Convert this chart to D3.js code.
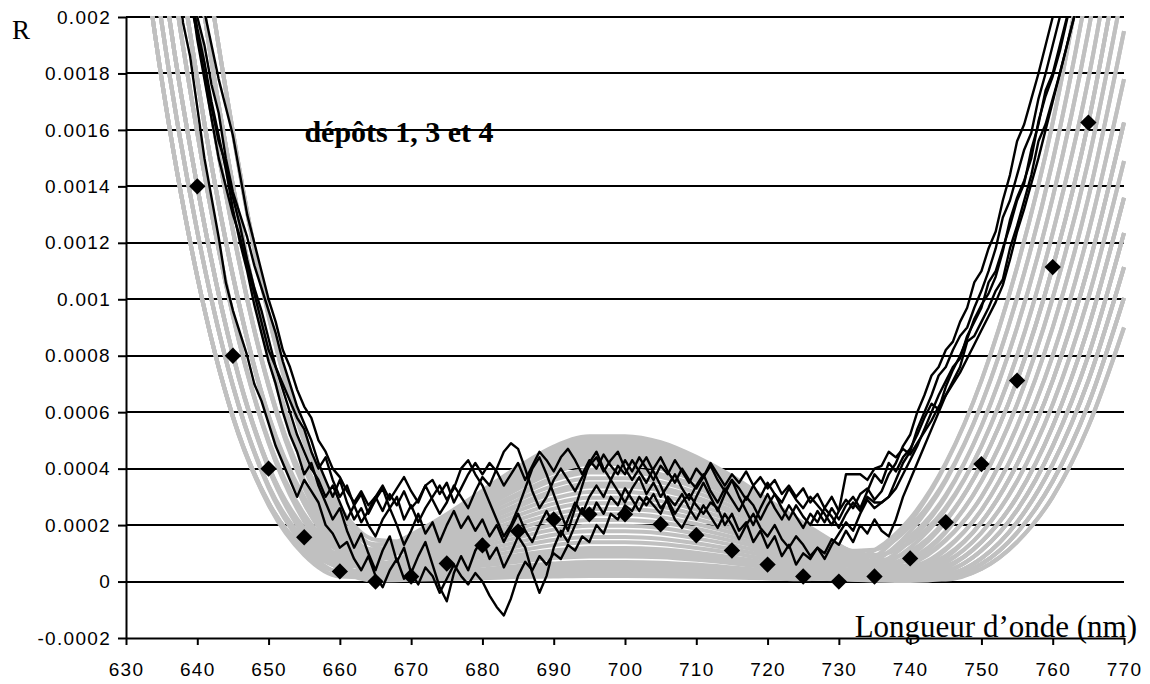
<!DOCTYPE html>
<html><head><meta charset="utf-8">
<script src="https://cdn.jsdelivr.net/npm/d3@7"></script>
<style>body{margin:0;background:#fff} svg{display:block}</style>
</head><body><svg id="c" width="1150" height="684"></svg>
<script>
// ---------- data ----------
const xTicks = [630,640,650,660,670,680,690,700,710,720,730,740,750,760,770];
const yTicks = [-0.0002,0,0.0002,0.0004,0.0006,0.0008,0.001,0.0012,0.0014,0.0016,0.0018,0.002];
const yTickLabels = ["-0.0002","0","0.0002","0.0004","0.0006","0.0008","0.001","0.0012","0.0014","0.0016","0.0018","0.002"];

const grayX = [630,635,640,645,650,655,660,665,670,675,680,685,690,695,700,705,710,715,720,725,730,735,740,745,750,755,760,765,770];
const gray1 = [0.0027,0.00178,0.00108,0.000585,0.00028,0.000121,0.000072,0.000104,0.000166,0.000239,0.000322,0.000406,0.000478,0.000515,0.000515,0.000494,0.000442,0.000374,0.000291,0.000208,0.00013,0.000068,0.000049,0.000092,0.00021,0.000416,0.000712,0.001114,0.001626];
const gray2 = [0.0034,0.0022,0.0014,0.000805,0.00041,0.00019,0.0001,0.0001,0.00016,0.00023,0.00031,0.00039,0.00046,0.000495,0.000495,0.000475,0.000425,0.00036,0.00028,0.0002,0.000125,0.000065,0.000035,0.000055,0.00014,0.0003,0.00055,0.0009,0.00136];
const gray3 = [0.0042,0.0027,0.00178,0.001085,0.00059,0.000299,0.000148,0.000106,0.000154,0.000221,0.000298,0.000374,0.000442,0.000475,0.000475,0.000456,0.000408,0.000346,0.000269,0.000192,0.00012,0.000062,0.000029,0.000028,0.000082,0.00021,0.000416,0.000712,0.001114];
const gray4 = [0.005,0.0034,0.0022,0.001405,0.000809,0.000428,0.000215,0.000132,0.000147,0.000212,0.000285,0.000359,0.000423,0.000455,0.000455,0.000437,0.000391,0.000331,0.000258,0.000184,0.000115,0.000065,0.000073,0.000149,0.0003,0.00055,0.0009,0.00136,0.00195];
const gray5 = [0.0027,0.00178,0.00108,0.000584,0.000279,0.000116,0.000062,0.000086,0.000138,0.000198,0.000267,0.000335,0.000396,0.000426,0.000426,0.000409,0.000366,0.00031,0.000241,0.000172,0.000108,0.000074,0.000108,0.000219,0.000416,0.000712,0.001114,0.001626,0.0023];
const gray6 = [0.0034,0.0022,0.0014,0.000804,0.000408,0.000184,0.000088,0.00008,0.000128,0.000184,0.000248,0.000312,0.000368,0.000396,0.000396,0.00038,0.00034,0.000288,0.000224,0.00016,0.0001,0.000052,0.000024,0.000026,0.000082,0.00021,0.000416,0.000712,0.001114];
const gray7 = [0.0042,0.0027,0.00178,0.001084,0.000587,0.000292,0.000134,0.000084,0.000118,0.00017,0.000229,0.000289,0.00034,0.000366,0.000366,0.000352,0.000315,0.000266,0.000207,0.000148,0.000093,0.000048,0.00004,0.000089,0.00021,0.000416,0.000712,0.001114,0.001626];
const gray8 = [0.005,0.0034,0.0022,0.001403,0.000807,0.00042,0.000201,0.000108,0.000109,0.000156,0.000211,0.000265,0.000313,0.000337,0.000337,0.000323,0.000289,0.000245,0.00019,0.000136,0.00009,0.000089,0.00016,0.000307,0.00055,0.0009,0.00136,0.00195,0.0027];
const gray9 = [0.0034,0.0022,0.0014,0.000803,0.000406,0.000178,0.000076,0.00006,0.000096,0.000138,0.000186,0.000234,0.000276,0.000297,0.000297,0.000285,0.000255,0.000216,0.000168,0.00012,0.000075,0.000039,0.000023,0.000051,0.00014,0.0003,0.00055,0.0009,0.00136];
const gray10 = [0.0042,0.0027,0.00178,0.001083,0.000585,0.000286,0.000121,0.000062,0.000083,0.00012,0.000161,0.000203,0.000239,0.000257,0.000257,0.000247,0.000221,0.000187,0.000146,0.000104,0.000065,0.000039,0.000061,0.000145,0.0003,0.00055,0.0009,0.00136,0.00195];
const gray11 = [0.0027,0.00178,0.00108,0.000582,0.000274,0.000103,0.000036,0.000044,0.00007,0.000101,0.000136,0.000172,0.000202,0.000218,0.000218,0.000209,0.000187,0.000158,0.000123,0.000088,0.000073,0.000111,0.000223,0.00042,0.000712,0.001114,0.001626,0.0023,0.0031];
const gray12 = [0.005,0.0034,0.0022,0.001402,0.000804,0.000411,0.000182,0.000076,0.000058,0.000083,0.000112,0.00014,0.000166,0.000178,0.000178,0.000171,0.000153,0.00013,0.000101,0.000072,0.000045,0.000023,0.000011,0.000022,0.000082,0.00021,0.000416,0.000712,0.001114];
const gray13 = [0.0034,0.0022,0.0014,0.000801,0.000403,0.000168,0.000057,0.000028,0.000045,0.000064,0.000087,0.000109,0.000129,0.000139,0.000139,0.000133,0.000119,0.000101,0.000078,0.000056,0.000035,0.000036,0.00009,0.000213,0.000416,0.000712,0.001114,0.001626,0.0023];
const gray14 = [0.0042,0.0027,0.00178,0.001081,0.000582,0.000276,0.000102,0.00003,0.000032,0.000046,0.000062,0.000078,0.000092,0.000099,0.000099,0.000095,0.000085,0.000072,0.000056,0.00004,0.000025,0.000013,0.000024,0.000084,0.00021,0.000416,0.000712,0.001114,0.001626];
const gray15 = [0.0027,0.00178,0.00108,0.000581,0.000271,0.000094,0.000018,0.000014,0.000022,0.000032,0.000043,0.000055,0.000064,0.000069,0.000069,0.000067,0.00006,0.00005,0.000039,0.000028,0.000023,0.000054,0.000144,0.000301,0.00055,0.0009,0.00136,0.00195,0.0027];
const gray16 = [0.005,0.0034,0.0022,0.0014,0.000801,0.000402,0.000165,0.000048,0.000013,0.000018,0.000025,0.000031,0.000037,0.00004,0.00004,0.000038,0.000034,0.000029,0.000022,0.000016,0.00001,0.000005,0.000007,0.000046,0.00014,0.0003,0.00055,0.0009,0.00136];
const gray17 = [0.0034,0.0022,0.0014,0.0008,0.0004,0.000161,0.000042,0.000004,0.000006,0.000009,0.000012,0.000016,0.000018,0.00002,0.00002,0.000019,0.000017,0.000014,0.000011,0.000008,0.000023,0.000085,0.000211,0.000416,0.000712,0.001114,0.001626,0.0023,0.0031];
const gray18 = [0.0042,0.0027,0.00178,0.001081,0.000582,0.000277,0.000103,0.000032,0.000035,0.000051,0.000068,0.000086,0.000101,0.000109,0.000109,0.000105,0.000094,0.000079,0.000062,0.000044,0.000028,0.000014,0.000007,0.000007,0.000045,0.00014,0.0003,0.00055,0.0009];
const gray19 = [0.005,0.0034,0.0022,0.001402,0.000805,0.000414,0.000189,0.000088,0.000077,0.00011,0.000149,0.000187,0.000221,0.000238,0.000238,0.000228,0.000204,0.000173,0.000134,0.000096,0.00006,0.000049,0.000096,0.000215,0.000416,0.000712,0.001114,0.001626,0.0023];
const gray20 = [0.0027,0.00178,0.00108,0.000585,0.000279,0.000117,0.000064,0.00009,0.000144,0.000207,0.000279,0.000351,0.000414,0.000446,0.000446,0.000428,0.000383,0.000324,0.000252,0.00018,0.000113,0.000059,0.000027,0.000014,0.000045,0.00014,0.0003,0.00055,0.0009];
const gray21 = [0.003,0.00198,0.00124,0.000695,0.00034,0.000151,0.000081,0.000102,0.000163,0.000235,0.000316,0.000398,0.000469,0.000505,0.000505,0.000485,0.000434,0.000367,0.000286,0.000204,0.000128,0.000066,0.000033,0.00004,0.00011,0.000253,0.00048,0.0008,0.001235];
const gray22 = [0.0038,0.00245,0.00159,0.000945,0.0005,0.000239,0.000119,0.000098,0.000157,0.000225,0.000304,0.000382,0.000451,0.000485,0.000485,0.000466,0.000417,0.000353,0.000274,0.000196,0.000125,0.000094,0.000139,0.000263,0.00048,0.0008,0.001235,0.00178,0.0025];
const gray23 = [0.0046,0.003,0.00198,0.001245,0.000699,0.000358,0.000176,0.000114,0.00015,0.000216,0.000291,0.000367,0.000432,0.000465,0.000465,0.000447,0.0004,0.000338,0.000263,0.000188,0.000118,0.000061,0.000038,0.000071,0.000173,0.000355,0.000628,0.001005,0.00149];
const gray24 = [0.0054,0.0038,0.00245,0.001594,0.000949,0.000516,0.000263,0.000148,0.000141,0.000202,0.000273,0.000343,0.000405,0.000436,0.000436,0.000418,0.000374,0.000317,0.000246,0.000176,0.00011,0.000057,0.000026,0.000019,0.000062,0.000173,0.000355,0.000628,0.001005];
const gray25 = [0.003,0.00198,0.00124,0.000694,0.000338,0.000145,0.00007,0.000084,0.000134,0.000193,0.00026,0.000328,0.000386,0.000416,0.000416,0.000399,0.000357,0.000302,0.000235,0.000168,0.000105,0.000057,0.000055,0.000118,0.000253,0.00048,0.0008,0.001235,0.00178];
const gray26 = [0.0038,0.00245,0.00159,0.000944,0.000498,0.000233,0.000107,0.000078,0.000125,0.000179,0.000242,0.000304,0.000359,0.000386,0.000386,0.000371,0.000332,0.000281,0.000218,0.000156,0.000108,0.000113,0.000196,0.000363,0.000628,0.001005,0.00149,0.00212,0.0029];
const gray27 = [0.0046,0.003,0.00198,0.001244,0.000697,0.000351,0.000162,0.00009,0.000112,0.000161,0.000217,0.000273,0.000322,0.000347,0.000347,0.000333,0.000298,0.000252,0.000196,0.00014,0.000088,0.000046,0.000023,0.000037,0.00011,0.000253,0.00048,0.0008,0.001235];
const gray28 = [0.0054,0.0038,0.00245,0.001593,0.000946,0.000509,0.000248,0.000124,0.000102,0.000147,0.000198,0.00025,0.000294,0.000317,0.000317,0.000304,0.000272,0.00023,0.000179,0.000128,0.00008,0.000052,0.000081,0.000179,0.000355,0.000628,0.001005,0.00149,0.00212];
const gray29 = [0.003,0.00198,0.00124,0.000693,0.000336,0.000137,0.000054,0.000056,0.00009,0.000129,0.000174,0.000218,0.000258,0.000277,0.000277,0.000266,0.000238,0.000202,0.000157,0.000112,0.00007,0.000036,0.000017,0.000016,0.000062,0.000173,0.000355,0.000628,0.001005];
const gray30 = [0.0038,0.00245,0.00159,0.000942,0.000494,0.000222,0.000084,0.00004,0.000064,0.000092,0.000124,0.000156,0.000184,0.000198,0.000198,0.00019,0.00017,0.000144,0.000112,0.00008,0.00005,0.000026,0.000022,0.000066,0.000173,0.000355,0.000628,0.001005,0.00149];
const gray31 = [0.0046,0.003,0.00198,0.001242,0.000693,0.00034,0.000139,0.000052,0.000051,0.000074,0.000099,0.000125,0.000147,0.000158,0.000158,0.000152,0.000136,0.000115,0.00009,0.000064,0.000042,0.000051,0.00012,0.000256,0.00048,0.0008,0.001235,0.00178,0.0025];
const gray32 = [0.0054,0.0038,0.00245,0.001591,0.000942,0.000497,0.000224,0.000084,0.000038,0.000055,0.000074,0.000094,0.00011,0.000119,0.000119,0.000114,0.000102,0.000086,0.000067,0.000048,0.00003,0.000018,0.000037,0.000112,0.000253,0.00048,0.0008,0.001235,0.00178];
const gray33 = [0.003,0.00198,0.00124,0.000691,0.000332,0.000125,0.000031,0.000018,0.000029,0.000041,0.000056,0.00007,0.000083,0.000089,0.000089,0.000086,0.000077,0.000065,0.00005,0.000036,0.000023,0.000012,0.000007,0.000032,0.00011,0.000253,0.00048,0.0008,0.001235];
const gray34 = [0.0038,0.00245,0.00159,0.00094,0.000491,0.000213,0.000066,0.00001,0.000016,0.000023,0.000031,0.000039,0.000046,0.00005,0.00005,0.000048,0.000043,0.000036,0.000028,0.00002,0.000013,0.000017,0.000065,0.000174,0.000355,0.000628,0.001005,0.00149,0.00212];
const gray35 = [0.0046,0.003,0.00198,0.00124,0.000691,0.000332,0.000124,0.000026,0.00001,0.000014,0.000019,0.000023,0.000028,0.00003,0.00003,0.000029,0.000026,0.000022,0.000017,0.000012,0.000008,0.000004,0.000002,0.000011,0.000062,0.000173,0.000355,0.000628,0.001005];
const gray36 = [0.0054,0.0038,0.00245,0.001591,0.000941,0.000494,0.000217,0.000072,0.000019,0.000028,0.000037,0.000047,0.000055,0.000059,0.000059,0.000057,0.000051,0.000043,0.000034,0.000024,0.000025,0.00007,0.000177,0.000356,0.000628,0.001005,0.00149,0.00212,0.0029];

const blackX = [636,637,638,639,640,641,642,643,644,645,646,647,648,649,650,651,652,653,654,655,656,657,658,659,660,661,662,663,664,665,666,667,668,669,670,671,672,673,674,675,676,677,678,679,680,681,682,683,684,685,686,687,688,689,690,691,692,693,694,695,696,697,698,699,700,701,702,703,704,705,706,707,708,709,710,711,712,713,714,715,716,717,718,719,720,721,722,723,724,725,726,727,728,729,730,731,732,733,734,735,736,737,738,739,740,741,742,743,744,745,746,747,748,749,750,751,752,753,754,755,756,757,758,759,760,761,762,763,764,765,766];
const black1 = [0.0024,0.0022,0.00198,0.00186,0.00168,0.0015,0.00136,0.00122,0.00106,0.00096,
0.00088,0.0008,0.0007,0.00064,0.00056,0.00048,0.00042,0.00036,0.0003,0.00036,
0.00032,0.00028,0.0002,0.00017,0.00012,0.00014,0.00008,0.00004,0.00009,0.00002,
-0.00002,0.00004,0.00008,0.00001,0.00003,-0.00001,0.00005,0.00002,-0.00004,0.00001,
0.00006,0.00002,-0.00001,0.00003,0,-0.00005,-0.00009,-0.00012,-0.00006,0.00002,
0.00007,0.00004,0.00009,0.00006,0.0001,0.00008,0.00013,0.00011,0.00016,0.00014,
0.0002,0.00017,0.00024,0.00022,0.00027,0.00025,0.0003,0.00027,0.00031,0.00026,
0.00029,0.00024,0.00028,0.00031,0.00027,0.00024,0.00028,0.00026,0.0002,0.00024,
0.00018,0.00021,0.00014,0.00018,0.00012,0.00016,0.00009,0.00013,0.00006,0.0001,
0.00008,0.00012,0.0001,0.00015,0.00013,0.00018,0.00014,0.0002,0.00017,0.00022,
0.00018,0.00016,0.00022,0.0003,0.00036,0.00042,0.00048,0.00054,0.0006,0.00066,
0.00071,0.00076,0.00085,0.00087,0.00092,0.00097,0.00103,0.00107,0.00118,0.00126,
0.00135,0.00144,0.00156,0.00162,0.00171,0.0018,0.0019,0.002,0.0021,0.0022,
0.0023];
const black2 = [0.0027,0.0025,0.0023,0.0021,0.00196,0.00184,0.0017,0.00158,0.00146,0.00132,
0.0012,0.0011,0.00098,0.00088,0.00078,0.0007,0.0006,0.00052,0.00046,0.00038,
0.00042,0.00034,0.00028,0.00022,0.00026,0.00018,0.00012,0.00017,0.0001,0.00004,
0.00011,0.00016,0.00007,0.00012,0.00003,0.00009,0.00014,0.00006,-0.00002,-0.00007,
0.00003,0.00009,0.00004,0.00011,0.00015,0.00008,0.00012,0.00005,0.0001,0.00016,
0.00012,0.00003,-0.00004,0.00002,0.00012,0.00018,0.00014,0.0002,0.00026,0.00022,
0.00028,0.00024,0.0003,0.00027,0.00033,0.00029,0.00025,0.0003,0.00027,0.00024,
0.0003,0.00027,0.00031,0.00026,0.00022,0.00027,0.00023,0.00019,0.00024,0.0002,
0.00015,0.0002,0.00024,0.00019,0.00016,0.0002,0.00015,0.00012,0.00016,0.00013,
0.00009,0.00012,0.00008,0.00013,0.00017,0.00021,0.00018,0.00024,0.00029,0.00026,
0.00028,0.0003,0.00036,0.00042,0.00046,0.00054,0.0006,0.00066,0.00073,0.00076,
0.00082,0.00087,0.0009,0.00097,0.00103,0.0011,0.00118,0.00129,0.00135,0.00144,
0.00153,0.00159,0.00171,0.0018,0.0019,0.002,0.0021,0.0022,0.0023,0.0024,
0.0025];
const black3 = [0.0028,0.0026,0.00235,0.00214,0.002,0.0019,0.00176,0.00166,0.0015,0.00138,
0.0013,0.00122,0.00112,0.00104,0.00096,0.00088,0.00078,0.0007,0.00062,0.00056,
0.0005,0.00042,0.00036,0.0003,0.00036,0.00028,0.00022,0.00026,0.0002,0.00016,
0.00022,0.00026,0.0002,0.00013,0.00018,0.00024,0.00017,0.00021,0.00014,0.0002,
0.00025,0.00019,0.00023,0.00018,0.00022,0.00016,0.0002,0.00014,0.00019,0.00024,
0.00018,0.00014,0.0002,0.00025,0.0002,0.00016,0.00022,0.00028,0.00024,0.0003,
0.00034,0.0003,0.00036,0.00032,0.00028,0.00033,0.00037,0.00031,0.00035,0.0003,
0.00034,0.00038,0.00033,0.00029,0.00034,0.00038,0.00032,0.00028,0.00033,0.00029,
0.00025,0.0003,0.00027,0.00022,0.00027,0.00031,0.00026,0.00022,0.00027,0.00023,
0.0002,0.00025,0.00021,0.00026,0.00022,0.00027,0.0003,0.00026,0.00032,0.00038,
0.00035,0.00042,0.00039,0.00044,0.00047,0.00052,0.00058,0.00063,0.00061,0.00069,
0.00075,0.0008,0.00086,0.00093,0.00098,0.00102,0.00108,0.00117,0.00128,0.00136,
0.00142,0.0015,0.00163,0.00172,0.00179,0.00188,0.00199,0.00211,0.0022,0.0023,
0.0024];
const black4 = [0.0029,0.0027,0.0025,0.0023,0.00212,0.00202,0.0019,0.00178,0.00168,0.00158,
0.00144,0.0013,0.0012,0.0011,0.001,0.00092,0.00082,0.00076,0.00068,0.00062,
0.00058,0.0005,0.00046,0.0004,0.00037,0.00032,0.00028,0.00032,0.00027,0.0003,
0.00025,0.00031,0.00027,0.00032,0.00026,0.00029,0.00034,0.00036,0.00031,0.00035,
0.00028,0.00033,0.00038,0.00042,0.00038,0.00042,0.00039,0.00034,0.00038,0.00042,
0.00036,0.00041,0.00046,0.00043,0.00039,0.00044,0.00047,0.00043,0.00038,0.00043,
0.0004,0.00045,0.00041,0.00038,0.00043,0.00039,0.00044,0.0004,0.00036,0.00041,
0.00038,0.00043,0.00039,0.00035,0.0004,0.00037,0.00042,0.00038,0.00034,0.00038,
0.00035,0.00039,0.00034,0.00037,0.00033,0.00036,0.00031,0.00034,0.0003,0.00033,
0.00028,0.00031,0.00026,0.0003,0.00025,0.00029,0.00026,0.00031,0.00033,0.00029,
0.00032,0.00038,0.00042,0.00048,0.00052,0.0006,0.00066,0.00073,0.00076,0.00082,
0.00085,0.00092,0.00097,0.00106,0.0011,0.00118,0.00124,0.00135,0.00144,0.00156,
0.00162,0.00171,0.0018,0.0019,0.002,0.0021,0.0022,0.0023,0.0024,0.0025,
0.0026];
const black5 = [0.0026,0.0024,0.0022,0.00206,0.00194,0.0018,0.00168,0.00156,0.00148,0.00136,
0.00126,0.00114,0.00104,0.00096,0.00086,0.00076,0.0007,0.00064,0.00058,0.00054,
0.00046,0.0004,0.00044,0.00036,0.0003,0.00034,0.00027,0.00031,0.00024,0.00029,
0.00033,0.00026,0.0003,0.00022,0.00027,0.00021,0.00026,0.0003,0.00034,0.00029,
0.00033,0.0004,0.00043,0.00038,0.00034,0.00028,0.00022,0.00016,0.0002,0.00026,
0.00033,0.0004,0.00044,0.00038,0.00031,0.00024,0.00018,0.00026,0.00034,0.00042,
0.00046,0.0004,0.00036,0.00041,0.00038,0.00043,0.00039,0.00035,0.0004,0.00044,
0.00039,0.00035,0.0004,0.00036,0.00033,0.00037,0.00041,0.00036,0.00032,0.00036,
0.00033,0.00029,0.00034,0.0003,0.00035,0.00031,0.00028,0.00033,0.00029,0.00026,
0.0003,0.00027,0.00024,0.0002,0.00025,0.00038,0.00038,0.00038,0.00036,0.0004,
0.00041,0.00046,0.00044,0.00047,0.00045,0.00049,0.00053,0.00057,0.00062,0.00066,
0.0007,0.00074,0.00079,0.00084,0.00089,0.00094,0.00099,0.00105,0.00114,0.00124,
0.00132,0.00141,0.0015,0.0016,0.0017,0.0018,0.0019,0.002,0.0021,0.0022,
0.0023];
const black6 = [0.0027,0.00248,0.00228,0.0021,0.00192,0.00178,0.00164,0.0015,0.0014,0.0013,
0.00122,0.00112,0.00102,0.00092,0.00082,0.00076,0.00068,0.0006,0.00052,0.00046,
0.0004,0.00036,0.0003,0.00034,0.00028,0.00022,0.00027,0.00021,0.00025,0.0003,
0.00034,0.00029,0.00033,0.00037,0.00032,0.00028,0.00034,0.00029,0.00024,0.00028,
0.00034,0.0003,0.00026,0.00032,0.00037,0.00034,0.0004,0.00046,0.00049,0.00047,
0.0004,0.00032,0.00026,0.0003,0.00036,0.0004,0.00036,0.00032,0.00037,0.00041,
0.00044,0.00039,0.00043,0.00046,0.0004,0.00036,0.0004,0.00044,0.00039,0.00034,
0.00028,0.00022,0.00019,0.00024,0.0003,0.00035,0.0003,0.00025,0.00031,0.00036,
0.0003,0.00025,0.0002,0.00026,0.00031,0.00026,0.00022,0.00027,0.00023,0.00019,
0.00024,0.00021,0.00026,0.00023,0.00019,0.00024,0.00028,0.00025,0.0003,0.00028,
0.00028,0.0003,0.00033,0.00038,0.00043,0.00048,0.00054,0.0006,0.00066,0.00071,
0.00076,0.00079,0.00087,0.00092,0.00097,0.00106,0.0011,0.00118,0.00126,0.00135,
0.00141,0.00153,0.00162,0.00174,0.0018,0.0019,0.002,0.0021,0.0022,0.0023,
0.0024];

const diamondX = [640,645,650,655,660,665,670,675,680,685,690,695,700,705,710,715,720,725,730,735,740,745,750,755,760,765];
const diamondY = [0.0014,0.0008,0.0004,0.000157,0.000036,0,0.000018,0.000064,0.000128,0.000178,0.00022,0.000238,0.000238,0.000203,0.000164,0.00011,0.00006,0.000018,0,0.000018,0.000082,0.00021,0.000416,0.000712,0.001114,0.001626];

const grayCurves = [gray1,gray21,gray2,gray22,gray3,gray23,gray4,gray24,gray5,gray25,gray6,gray26,gray7,gray27,gray8,gray28,gray9,gray29,gray10,gray30,gray11,gray31,gray12,gray32,gray13,gray33,gray14,gray34,gray15,gray35,gray16,gray36,gray17,gray18,gray19,gray20];
const blackCurves = [black1,black2,black3,black4,black5,black6];

// ---------- drawing ----------
const svg = d3.select("#c");
const x = d3.scaleLinear().domain([630,770]).range([126,1124]);
const y = d3.scaleLinear().domain([-0.0002,0.002]).range([638,17]);

svg.append("defs").append("clipPath").attr("id","clip")
  .append("rect").attr("x",126).attr("y",16).attr("width",1006).attr("height",622);

// horizontal gridlines (snapped to whole pixels for crisp 2px lines)
svg.append("g").selectAll("line").data(yTicks.filter(v => v > -0.0002)).join("line")
  .attr("x1",x(630)).attr("x2",x(770))
  .attr("y1",d=>Math.round(y(d))).attr("y2",d=>Math.round(y(d)))
  .attr("stroke","#000").attr("stroke-width",2);

const plot = svg.append("g").attr("clip-path","url(#clip)");

const grayLine = d3.line().x((d,i)=>x(grayX[i])).y(d=>y(d)).curve(d3.curveMonotoneX);
plot.append("g").selectAll("path").data(grayCurves).join("path")
  .attr("d",grayLine).attr("fill","none").attr("stroke","#c0c0c0").attr("stroke-width",4);

const blackLine = d3.line().x((d,i)=>x(blackX[i])).y(d=>y(d));
plot.append("g").selectAll("path").data(blackCurves).join("path")
  .attr("d",blackLine).attr("fill","none").attr("stroke","#000").attr("stroke-width",2.4)
  .attr("stroke-linejoin","round");

const sym = d3.symbol().type(d3.symbolDiamond2 || d3.symbolDiamond).size(170);
plot.append("g").selectAll("path").data(diamondY).join("path")
  .attr("d",sym).attr("transform",(d,i)=>`translate(${x(diamondX[i])},${y(d)})`)
  .attr("fill","#000");

// axes
const yAxis = d3.axisLeft(y).tickValues(yTicks).tickFormat((d,i)=>yTickLabels[i])
  .tickSize(8).tickSizeOuter(0).tickPadding(7);
const gy = svg.append("g").attr("transform",`translate(${x(630)},0)`).call(yAxis);
const xAxis = d3.axisBottom(x).tickValues(xTicks).tickFormat(d=>String(d))
  .tickSize(7).tickSizeOuter(0).tickPadding(18);
const gx = svg.append("g").attr("transform",`translate(0,${y(-0.0002)})`).call(xAxis);
[gx,gy].forEach(g=>{
  g.select(".domain").attr("stroke","#000").attr("stroke-width",2);
  g.selectAll(".tick line").attr("stroke","#000").attr("stroke-width",2);
  g.selectAll(".tick text").attr("fill","#000")
   .style("font-family","'Liberation Sans', Arial, sans-serif").style("font-size","19px")
   .style("letter-spacing","1.3px");
});

// texts
svg.append("text").attr("x",12).attr("y",39).text("R")
  .style("font-family","'Liberation Serif', 'Times New Roman', serif").style("font-size","27px");
svg.append("text").attr("x",399).attr("y",142).attr("text-anchor","middle").text("dépôts 1, 3 et 4")
  .style("font-family","'Liberation Serif', 'Times New Roman', serif").style("font-size","30px").style("font-weight","bold");
svg.append("text").attr("x",1137).attr("y",637).attr("text-anchor","end").text("Longueur d’onde (nm)")
  .style("font-family","'Liberation Serif', 'Times New Roman', serif").style("font-size","31px");
</script></body></html>
